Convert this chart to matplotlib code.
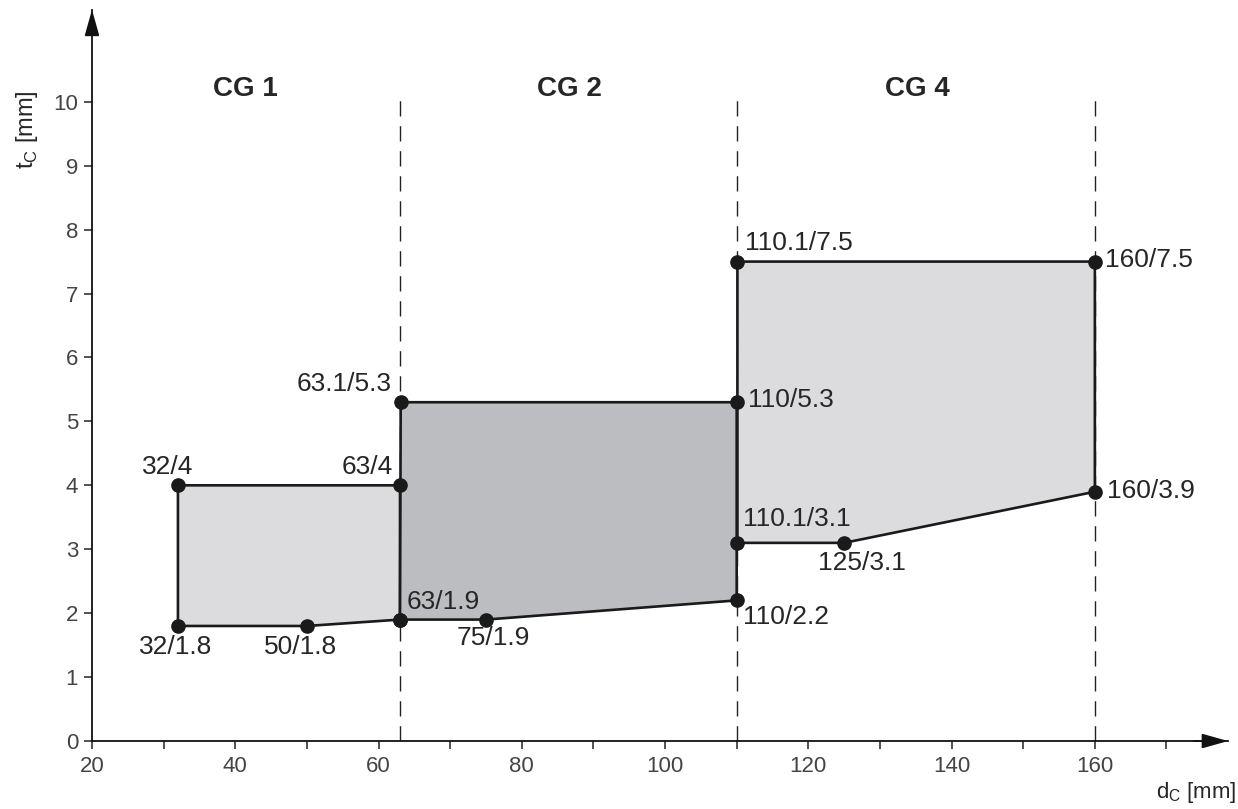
import matplotlib
matplotlib.use("Agg")
import matplotlib.pyplot as plt
from matplotlib.patches import Polygon

plt.rcParams['font.family'] = ['Liberation Sans', 'DejaVu Sans']

# ---- data ----
cg1_d = [32, 50, 63, 63, 32]
cg1_t = [1.8, 1.8, 1.9, 4, 4]
cg2_d = [63, 75, 110, 110, 63.1]
cg2_t = [1.9, 1.9, 2.2, 5.3, 5.3]
cg4_d = [110.1, 125, 160, 160, 110.1]
cg4_t = [3.1, 3.1, 3.9, 7.5, 7.5]

boundaries = [63, 110, 160]
group_names = ["CG 1", "CG 2", "CG 4"]
group_centers = [41.4, 86.7, 135.2]

x_major = [20, 40, 60, 80, 100, 120, 140, 160]
x_minor = [30, 50, 70, 90, 110, 130, 150, 170]
y_ticks = list(range(0, 11))

# point labels: (d, t, text, dx_px, dy_px, ha, va)
point_labels = [
    (32, 4, "32/4", -10, 6, "center", "bottom"),
    (63, 4, "63/4", -7, 6, "right", "bottom"),
    (32, 1.8, "32/1.8", -2, -9, "center", "top"),
    (50, 1.8, "50/1.8", -6, -9, "center", "top"),
    (63.1, 5.3, "63.1/5.3", -9, 6, "right", "bottom"),
    (63, 1.9, "63/1.9", 7, 6, "left", "bottom"),
    (75, 1.9, "75/1.9", 7, -6, "center", "top"),
    (110, 5.3, "110/5.3", 11, 2, "left", "center"),
    (110.1, 7.5, "110.1/7.5", 8, 7, "left", "bottom"),
    (110.1, 3.1, "110.1/3.1", 6, 12, "left", "bottom"),
    (125, 3.1, "125/3.1", 18, -8, "center", "top"),
    (110, 2.2, "110/2.2", 6, -5, "left", "top"),
    (160, 7.5, "160/7.5", 10, 2, "left", "center"),
    (160, 3.9, "160/3.9", 12, 1, "left", "center"),
]

light = "#dcdcdf"
dark = "#bcbdc0"
txt = "#262626"

fig = plt.figure(figsize=(12.38, 8.09), dpi=100)
ax = fig.add_axes([0.0743, 0.084, 0.9177, 0.904])
ax.set_xlim(20, 178.6)
ax.set_ylim(0, 11.44)

for d, t, c, z in [(cg1_d, cg1_t, light, 2), (cg4_d, cg4_t, light, 2), (cg2_d, cg2_t, dark, 3)]:
    ax.add_patch(Polygon(list(zip(d, t)), closed=True, facecolor=c,
                         edgecolor="#1a1a1a", linewidth=1.9, zorder=z))
    ax.plot(d, t, "o", color="#1a1a1a", markersize=9.5, zorder=5)

for b in boundaries:
    ax.plot([b, b], [0, 10.03], color="#222222", linewidth=1.0,
            dashes=(11, 7), zorder=1)

for name, cx in zip(group_names, group_centers):
    ax.text(cx, 10.2, name, ha="center", va="center", fontsize=20,
            fontweight="bold", color=txt)

for d, t, s, dx, dy, ha, va in point_labels:
    ax.annotate(s, (d, t), xytext=(dx * 0.72, dy * 0.72), textcoords="offset points",
                ha=ha, va=va, fontsize=19, color=txt, zorder=6)

# axes styling
for sp in ["top", "right"]:
    ax.spines[sp].set_visible(False)
for sp in ["left", "bottom"]:
    ax.spines[sp].set_linewidth(1.3)
    ax.spines[sp].set_color("#111111")
ax.set_xticks(x_major)
ax.set_xticks(x_minor, minor=True)
ax.set_yticks(y_ticks)
ax.tick_params(axis="both", which="both", direction="out", length=6, width=1.1,
               color="#222222", labelsize=16, labelcolor="#444444")
ax.tick_params(axis="x", which="both", pad=5)
ax.tick_params(axis="y", pad=4)

# arrows
ax.annotate("", xy=(0, 1.0), xycoords="axes fraction", xytext=(0, 0.97),
            arrowprops=dict(arrowstyle="-|>,head_length=1.6,head_width=0.45",
                            color="#111111", lw=1.3, shrinkA=0, shrinkB=0))
ax.annotate("", xy=(1.0, 0), xycoords="axes fraction", xytext=(0.97, 0),
            arrowprops=dict(arrowstyle="-|>,head_length=1.6,head_width=0.45",
                            color="#111111", lw=1.3, shrinkA=0, shrinkB=0))

fig.text(0.022, 0.84, r"t$_\mathregular{C}$ [mm]", rotation=90, ha="center", va="center",
         fontsize=17, color=txt)
fig.text(0.999, 0.02, r"d$_\mathregular{C}$ [mm]", ha="right", va="center",
         fontsize=16, color=txt)

fig.savefig("out.png", dpi=100)
